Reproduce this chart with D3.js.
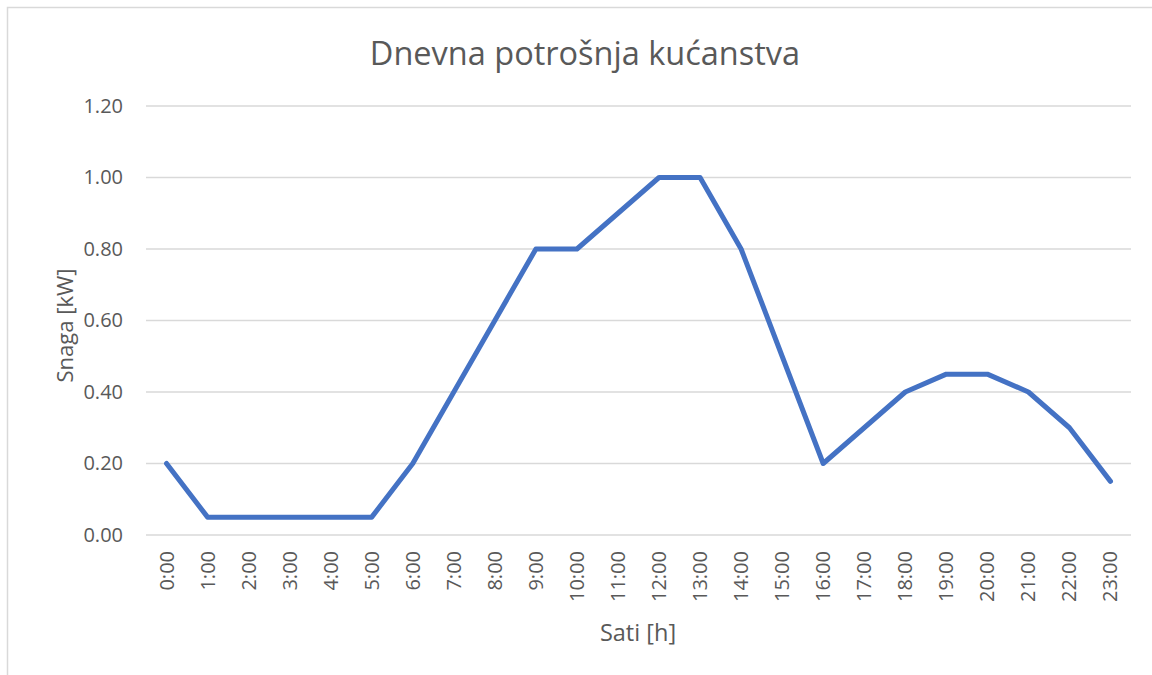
<!DOCTYPE html>
<html>
<head>
<meta charset="utf-8">
<script src="https://cdn.jsdelivr.net/npm/d3@7"></script>
<style>
  body { margin: 0; background: #fff; }
  text { font-family: "Open Sans", Lato, sans-serif; }
</style>
</head>
<body>
<svg id="chart" width="1152" height="675"></svg>
<script>
const hours = ['0:00','1:00','2:00','3:00','4:00','5:00','6:00','7:00','8:00','9:00','10:00','11:00',
  '12:00','13:00','14:00','15:00','16:00','17:00','18:00','19:00','20:00','21:00','22:00','23:00'];
const power = [0.20,0.05,0.05,0.05,0.05,0.05,0.20,0.40,0.60,0.80,0.80,0.90,
  1.00,1.00,0.80,0.50,0.20,0.30,0.40,0.45,0.45,0.40,0.30,0.15];
const yTicks = [0, 0.2, 0.4, 0.6, 0.8, 1.0, 1.2];

const svg = d3.select('#chart');
const plotLeft = 146, plotRight = 1131, plotTop = 106, plotBottom = 535;
const font = '"Open Sans", Lato, sans-serif';
const grey = '#595959';

// chart area border (only left/top visible in the crop)
svg.append('rect')
  .attr('x', 7.5).attr('y', 7.5)
  .attr('width', 1200).attr('height', 700)
  .attr('fill', 'none')
  .attr('stroke', '#d9d9d9')
  .attr('stroke-width', 1.5);

const x = d3.scaleBand().domain(hours).range([plotLeft, plotRight]);
const y = d3.scaleLinear().domain([0, 1.2]).range([plotBottom, plotTop]);

// gridlines
svg.append('g')
  .selectAll('line')
  .data(yTicks)
  .join('line')
  .attr('x1', plotLeft).attr('x2', plotRight)
  .attr('y1', d => y(d)).attr('y2', d => y(d))
  .attr('stroke', '#d9d9d9')
  .attr('stroke-width', 1.5);

// y axis labels
const yAxis = svg.append('g')
  .attr('transform', `translate(${plotLeft},0)`)
  .call(d3.axisLeft(y).tickValues(yTicks).tickFormat(d3.format('.2f')).tickSize(0).tickPadding(23));
yAxis.select('.domain').remove();
yAxis.selectAll('text')
  .attr('font-size', 20)
  .attr('fill', grey)
  .style('font-family', font);

// x axis labels, rotated
const xAxis = svg.append('g')
  .attr('transform', `translate(0,${plotBottom})`)
  .call(d3.axisBottom(x).tickSize(0).tickPadding(0));
xAxis.select('.domain').remove();
xAxis.selectAll('text')
  .attr('font-size', 20)
  .attr('fill', grey)
  .style('font-family', font)
  .attr('text-anchor', 'end')
  .attr('transform', 'rotate(-90)')
  .attr('x', -16)
  .attr('y', 0)
  .attr('dy', '0.35em');

// line
const line = d3.line()
  .x((d, i) => x(hours[i]) + x.bandwidth() / 2)
  .y(d => y(d));

svg.append('path')
  .datum(power)
  .attr('d', line)
  .attr('fill', 'none')
  .attr('stroke', '#4472c4')
  .attr('stroke-width', 5)
  .attr('stroke-linejoin', 'round')
  .attr('stroke-linecap', 'round');

// titles
svg.append('text')
  .attr('x', 585).attr('y', 65)
  .attr('text-anchor', 'middle')
  .attr('font-size', 32.5)
  .attr('fill', grey)
  .text('Dnevna potrošnja kućanstva');

svg.append('text')
  .attr('x', 638).attr('y', 641)
  .attr('text-anchor', 'middle')
  .attr('font-size', 23.5)
  .attr('fill', grey)
  .text('Sati [h]');

svg.append('text')
  .attr('transform', `translate(73,${(plotTop + plotBottom) / 2 + 5}) rotate(-90)`)
  .attr('text-anchor', 'middle')
  .attr('font-size', 22)
  .attr('fill', grey)
  .text('Snaga [kW]');
</script>
</body>
</html>
